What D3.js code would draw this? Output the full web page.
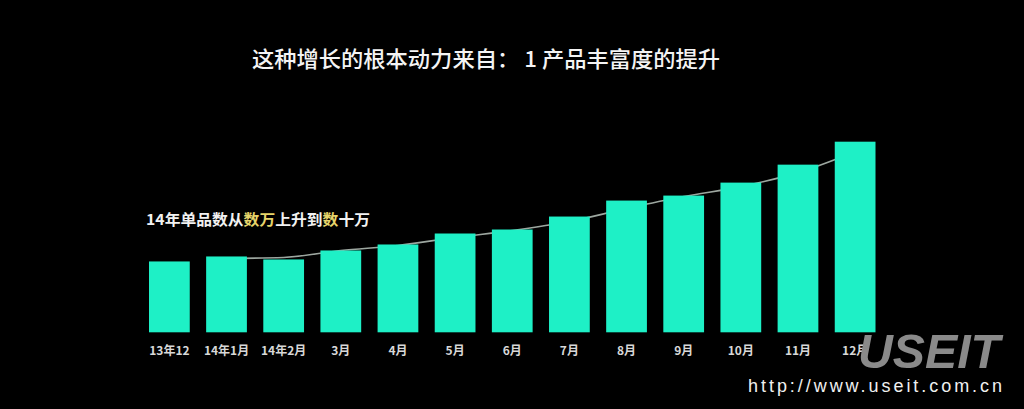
<!DOCTYPE html>
<html><head><meta charset="utf-8">
<script src="https://cdn.jsdelivr.net/npm/d3@7"></script>
<style>
html,body{margin:0;padding:0;background:#000;}
svg{display:block;}
</style></head>
<body><svg id="c" width="1024" height="409"></svg>
<script>
const categories = ["13年12","14年1月","14年2月","3月","4月","5月","6月","7月","8月","9月","10月","11月","12月"];
const values = [71, 76, 73, 82, 88, 99, 103, 116, 132, 137, 150, 168, 191];
const trendCats = ["14年1月","14年2月","3月","4月","5月","6月","7月","8月","9月","10月","11月","12月"];
const trendValues = [74, 75, 82, 87, 95, 102, 111, 124, 136, 146, 160, 181];
const title = "这种增长的根本动力来自： 1 产品丰富度的提升";
const noteParts = [["14年单品数从", "#f2f2f2"], ["数万", "#e6d46a"], ["上升到", "#f2f2f2"], ["数", "#e6d46a"], ["十万", "#f2f2f2"]];

const svg = d3.select("#c");
svg.append("rect").attr("width",1024).attr("height",409).attr("fill","#000");

const x = d3.scaleBand().domain(categories).range([149, 875.5]).paddingInner(0.287).paddingOuter(0);
const y = d3.scaleLinear().domain([0, 191]).range([332.3, 141.7]);

// trend line (behind bars)
const line = d3.line()
  .x((d,i) => x(trendCats[i]) + x.bandwidth()/2)
  .y(d => y(d))
  .curve(d3.curveMonotoneX);
svg.append("path").datum(trendValues)
  .attr("d", line).attr("fill","none")
  .attr("stroke","#b8c4bc").attr("stroke-width",1.6).attr("opacity",0.85);

svg.append("g").selectAll("rect").data(values).join("rect")
  .attr("x",(d,i)=>x(categories[i]))
  .attr("y",d=>y(d))
  .attr("width",x.bandwidth())
  .attr("height",d=>y(0)-y(d))
  .attr("fill","#1ef0c6");

// axis labels
const ax = svg.append("g").attr("transform","translate(0,355)")
  .call(d3.axisBottom(x).tickSize(0).tickPadding(0));
ax.select(".domain").remove();
ax.selectAll("text")
  .attr("dy",0)
  .attr("fill","#d8d8d8")
  .style("font-family","'Noto Sans CJK SC', sans-serif")
  .style("font-size","12px")
  .style("font-weight","700");

// title
svg.append("text").attr("x",252).attr("y",67)
  .attr("fill","#f4f4f4")
  .style("font-family","'Noto Sans CJK SC', sans-serif")
  .style("font-size","22px")
  .style("font-weight","500")
  .attr("textLength",468).attr("lengthAdjust","spacingAndGlyphs")
  .text(title);

// annotation
const note = svg.append("text").attr("x",146).attr("y",225)
  .style("font-family","'Noto Sans CJK SC', sans-serif")
  .style("font-size","15px")
  .style("font-weight","700")
  .attr("textLength",224).attr("lengthAdjust","spacingAndGlyphs");
noteParts.forEach(p => note.append("tspan").attr("fill",p[1]).text(p[0]));

// watermark
svg.append("text").attr("x",858).attr("y",368)
  .attr("fill","#8a8a8a")
  .style("font-family","'Liberation Sans', Arial, sans-serif")
  .style("font-size","48px").style("font-weight","700").style("font-style","italic")
  .attr("textLength",142).attr("lengthAdjust","spacingAndGlyphs")
  .text("USEIT");
svg.append("text").attr("x",748).attr("y",392)
  .attr("fill","#f0f0f0")
  .style("font-family","'Liberation Sans', Arial, sans-serif")
  .style("font-size","18px")
  .attr("textLength",254)
  .text("http://www.useit.com.cn");
</script></body></html>
